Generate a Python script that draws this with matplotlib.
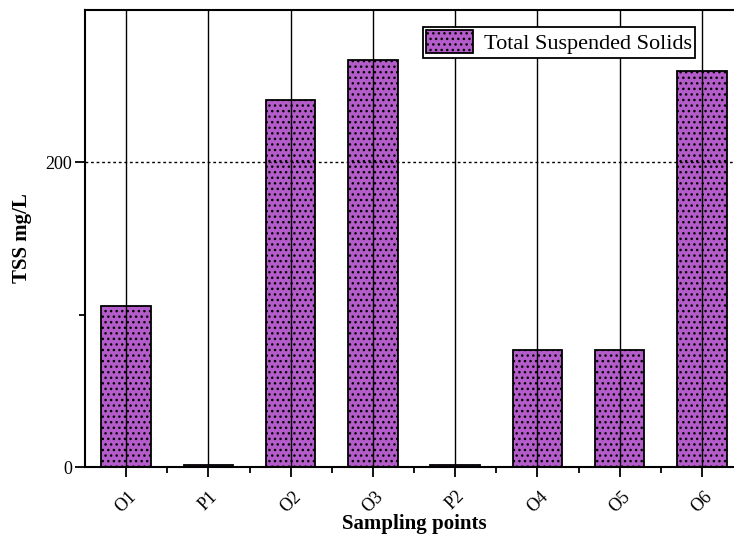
import matplotlib.pyplot as plt

# values
points = ["O1", "P1", "O2", "O3", "P2", "O4", "O5", "O6"]
tss = [106, 1, 241, 267, 1, 77, 77, 260]

plt.rcParams["font.family"] = ["Liberation Serif", "DejaVu Serif"]
plt.rcParams["hatch.color"] = "#2a0a30"
plt.rcParams["hatch.linewidth"] = 1.0

fig = plt.figure(figsize=(7.34, 5.35), dpi=100)
ax = fig.add_axes([85 / 734, 68 / 535, 658 / 734, 457 / 535])

x = list(range(len(points)))
ax.bar(x, tss, width=0.6, color="#b55ccb", edgecolor="black", linewidth=1.3,
       hatch="...", label="Total Suspended Solids", zorder=1)

ax.set_xlim(-0.5, len(points) - 0.5)
ax.set_ylim(0, 300)
ax.set_xticks(x)
ax.set_xticklabels(points, rotation=45, fontsize=13, ha="center", va="top")
ax.set_xticks([i + 0.5 for i in x[:-1]], minor=True)
ax.set_yticks([0, 200])
ax.set_yticks([100], minor=True)
ax.tick_params(axis="both", which="major", direction="out", length=7, width=1.3, labelsize=13)
ax.tick_params(axis="both", which="minor", direction="out", length=4, width=1.3)
ax.tick_params(axis="x", which="major", pad=8)
ax.tick_params(axis="y", which="major", pad=2)

# grid lines drawn over the bars
ax.set_axisbelow(False)
ax.xaxis.grid(True, color="black", linewidth=1.0, linestyle="-", zorder=3)
ax.yaxis.grid(True, color="black", linewidth=1.0, linestyle=(0, (2, 2)), zorder=3)

for s in ["top", "left", "bottom"]:
    ax.spines[s].set_linewidth(1.5)
ax.spines["right"].set_visible(False)

ax.set_xlabel("Sampling points", fontsize=15, fontweight="bold", labelpad=-1)
ax.set_ylabel("TSS mg/L", fontsize=15, fontweight="bold")
ax.yaxis.set_label_coords(-0.08, 0.5)

leg = ax.legend(loc="upper left", bbox_to_anchor=(338 / 658, 1 - 17 / 457), fontsize=16,
                frameon=True, fancybox=False, edgecolor="black", handlelength=2.1,
                handleheight=1.2, borderpad=0.15, handletextpad=0.5, borderaxespad=0)
leg.get_frame().set_linewidth(1.3)
leg.get_frame().set_alpha(1)

fig.savefig("out.png", dpi=100)
